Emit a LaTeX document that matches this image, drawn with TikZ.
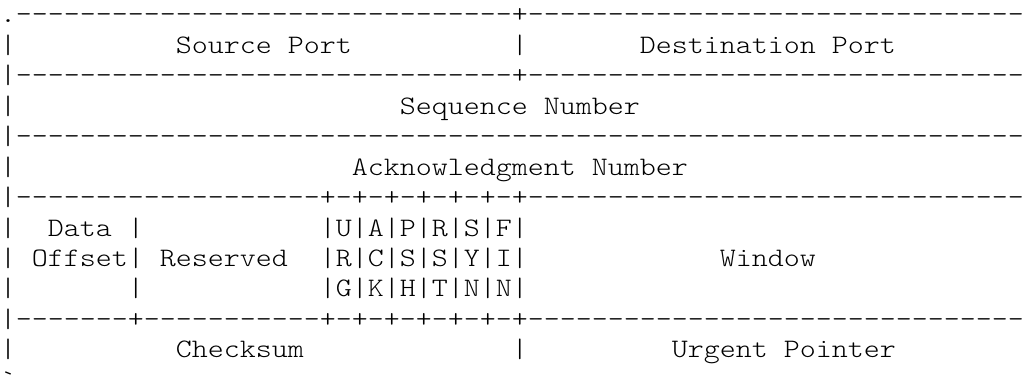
\documentclass[tikz,border=0pt]{standalone}
\usepackage{fontspec}
% light typewriter face, widened to a 0.6em advance per character
\setmonofont{lmmonolt10-regular.otf}[FakeStretch=1.142857]
% repeat a character a given number of times
\ExplSyntaxOn
\cs_new:Npn \chrep #1#2 { \prg_replicate:nn {#1} {#2} }
\ExplSyntaxOff
\newcommand\dsh[1]{\chrep{#1}{-}}
\newcommand\sps[1]{\chrep{#1}{~}}
\tikzset{
  row/.style={anchor=base west, inner sep=0pt, outer sep=0pt,
    font=\ttfamily\fontsize{10}{12}\selectfont, text=black},
}
\begin{document}
\begin{tikzpicture}[x=0.375pt, y=-0.375pt]
  \fill[white] (0,0) rectangle (1024,375);
  \useasboundingbox (0,0) rectangle (1024,375);
  % baselines: first at 22.5, one text line every 30.5
  \node[row] (l1)  at (0, 22.5)  {.\dsh{31}+\dsh{31}};
  \node[row] (l2)  at (0, 53)    {|\sps{10}Source~Port\sps{10}|\sps{7}Destination~Port};
  \node[row] (l3)  at (0, 83.5)  {|\dsh{31}+\dsh{31}};
  \node[row] (l4)  at (0, 114)   {|\sps{24}Sequence~Number};
  \node[row] (l5)  at (0, 144.5) {|\dsh{63}};
  \node[row] (l6)  at (0, 175)   {|\sps{21}Acknowledgment~Number};
  \node[row] (l7)  at (0, 205.5) {|\dsh{19}+-+-+-+-+-+-+\dsh{31}};
  \node[row] (l8)  at (0, 236)   {|\sps{2}Data~|\sps{11}|U|A|P|R|S|F|};
  \node[row] (l9)  at (0, 266.5) {|~Offset|~Reserved\sps{2}|R|C|S|S|Y|I|\sps{12}Window};
  \node[row] (l10) at (0, 297)   {|\sps{7}|\sps{11}|G|K|H|T|N|N|};
  \node[row] (l11) at (0, 327.5) {|\dsh{7}+\dsh{11}+-+-+-+-+-+-+\dsh{31}};
  \node[row] (l12) at (0, 358)   {|\sps{10}Checksum\sps{13}|\sps{9}Urgent~Pointer};
  \node[row] (l13) at (0, 388.5) {`};
\end{tikzpicture}
\end{document}
